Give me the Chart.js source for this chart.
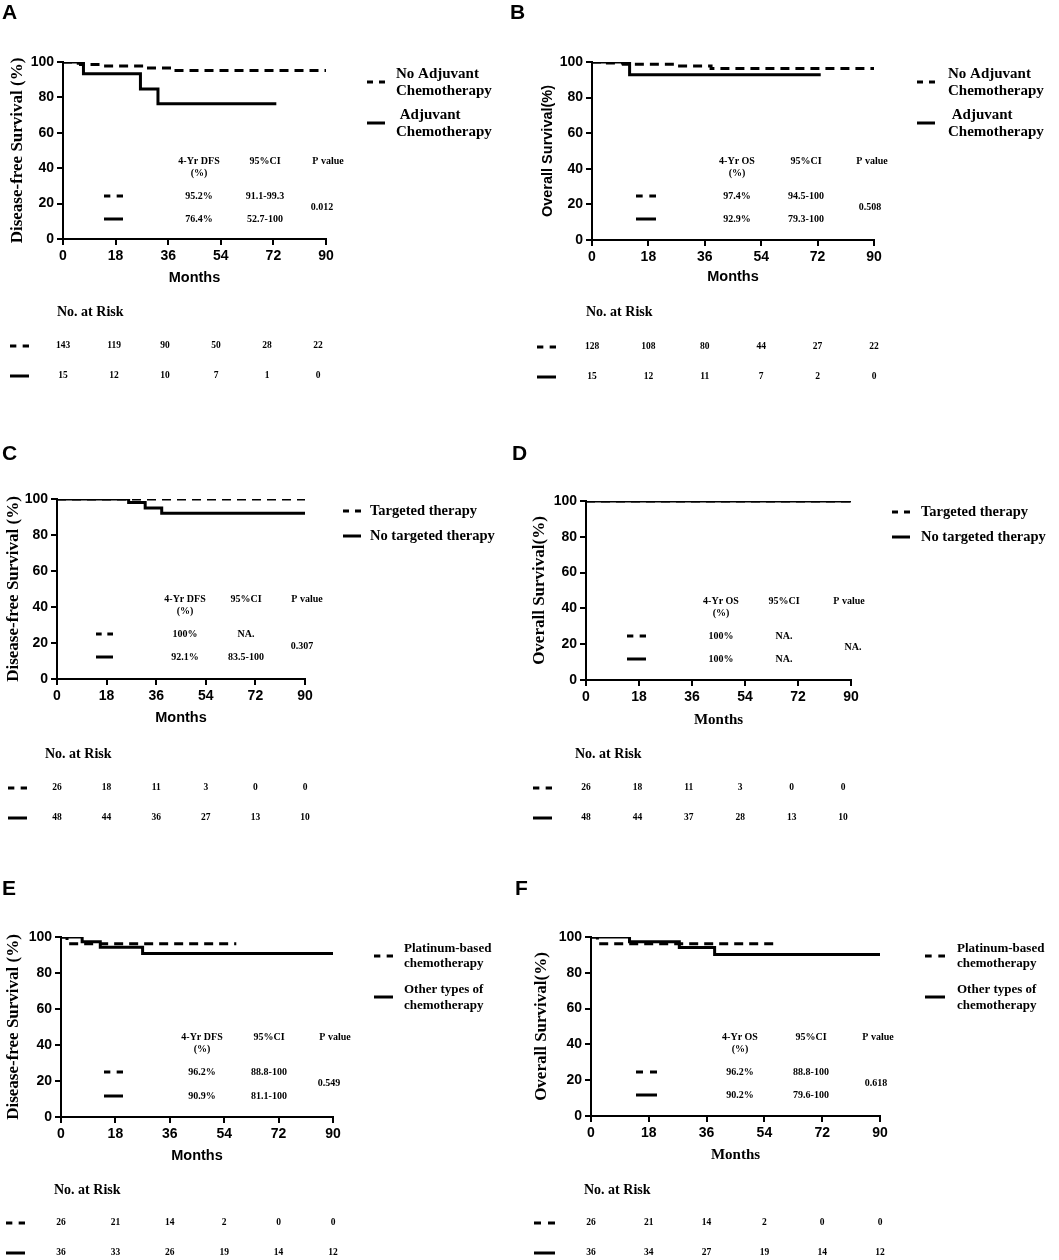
<!DOCTYPE html>
<html>
<head>
<meta charset="utf-8">
<script src="https://cdn.jsdelivr.net/npm/chart.js@4"></script>
<style>
  body { margin: 0; background: #fff; }
  #wrap { position: relative; width: 1059px; height: 1260px; overflow: hidden; background: #fff; }
  canvas { position: absolute; }
</style>
</head>
<body>
<div id="wrap"></div>
<script>
const monthTicks = [0, 18, 36, 54, 72, 90];

// A: DFS, adjuvant chemo vs none
const aNoAdjTime = [0, 4, 6, 13, 28, 38, 90];
const aNoAdjSurv = [100, 99.3, 98.6, 97.8, 96.6, 95.2, 95.2];
const aAdjTime = [0, 7, 26.5, 32.5, 73];
const aAdjSurv = [100, 93.3, 84.8, 76.4, 76.4];
const aRiskNoAdj = [143, 119, 90, 50, 28, 22];
const aRiskAdj = [15, 12, 10, 7, 1, 0];
const aStats = [["95.2%", "91.1-99.3"], ["76.4%", "52.7-100"]];
const aP = "0.012";

// B: OS, adjuvant chemo vs none
const bNoAdjTime = [0, 4, 10, 27, 38, 90];
const bNoAdjSurv = [100, 99.4, 98.8, 97.8, 96.3, 96.3];
const bAdjTime = [0, 12, 73];
const bAdjSurv = [100, 92.9, 92.9];
const bRiskNoAdj = [128, 108, 80, 44, 27, 22];
const bRiskAdj = [15, 12, 11, 7, 2, 0];
const bStats = [["97.4%", "94.5-100"], ["92.9%", "79.3-100"]];
const bP = "0.508";

// C: DFS, targeted therapy vs none
const cTargTime = [0, 90];
const cTargSurv = [100, 100];
const cNoTargTime = [0, 26, 32, 38, 90];
const cNoTargSurv = [100, 98, 95, 92.1, 92.1];
const cRiskTarg = [26, 18, 11, 3, 0, 0];
const cRiskNoTarg = [48, 44, 36, 27, 13, 10];
const cStats = [["100%", "NA."], ["92.1%", "83.5-100"]];
const cP = "0.307";

// D: OS, targeted therapy vs none
const dTargTime = [0, 90];
const dTargSurv = [100, 100];
const dNoTargTime = [0, 90];
const dNoTargSurv = [100, 100];
const dRiskTarg = [26, 18, 11, 3, 0, 0];
const dRiskNoTarg = [48, 44, 37, 28, 13, 10];
const dStats = [["100%", "NA."], ["100%", "NA."]];
const dP = "NA.";

// E: DFS, platinum-based vs other chemo
const ePlatTime = [0, 2, 58];
const ePlatSurv = [100, 96.2, 96.2];
const eOtherTime = [0, 7, 13, 27, 90];
const eOtherSurv = [100, 97.4, 94.3, 90.9, 90.9];
const eRiskPlat = [26, 21, 14, 2, 0, 0];
const eRiskOther = [36, 33, 26, 19, 14, 12];
const eStats = [["96.2%", "88.8-100"], ["90.9%", "81.1-100"]];
const eP = "0.549";

// F: OS, platinum-based vs other chemo
const fPlatTime = [0, 2, 58];
const fPlatSurv = [100, 96.2, 96.2];
const fOtherTime = [0, 12, 27.5, 38.5, 90];
const fOtherSurv = [100, 97.4, 94.2, 90.2, 90.2];
const fRiskPlat = [26, 21, 14, 2, 0, 0];
const fRiskOther = [36, 34, 27, 19, 14, 12];
const fStats = [["96.2%", "88.8-100"], ["90.2%", "79.6-100"]];
const fP = "0.618";

const adjLabels = [["No Adjuvant", "Chemotherapy"], [" Adjuvant", "Chemotherapy"]];
const targLabels = [["Targeted therapy"], ["No targeted therapy"]];
const chemoLabels = [["Platinum-based", "chemotherapy"], ["Other types of", "chemotherapy"]];

const SERIF = '"Liberation Serif", "Times New Roman", serif';
const SANS = '"Liberation Sans", Arial, sans-serif';

function txt(ctx, s, x, y, font, align) {
  ctx.font = font;
  ctx.textAlign = align || "center";
  ctx.textBaseline = "middle";
  ctx.fillStyle = "#000";
  ctx.fillText(s, x, y);
}

function sym(ctx, x1, x2, y, dashed) {
  ctx.save();
  ctx.strokeStyle = "#000";
  ctx.lineWidth = 3;
  const d = (x2 - x1) / 3;
  ctx.setLineDash(dashed ? [d, d] : []);
  ctx.beginPath();
  ctx.moveTo(x1, y);
  ctx.lineTo(x2, y);
  ctx.stroke();
  ctx.restore();
}

const panels = [
  {
    letter: "A", lx: 2, ly: 13, ox: 0, oy: 0, w: 500, h: 440, L: 63, R: 326, T: 62, B: 239,
    yTitle: "Disease-free Survival (%)", yFont: { family: SERIF, size: 17, weight: "bold" }, yTitleX: 18,
    xFont: { family: SANS, size: 14.5, weight: "bold" }, xTitleY: 278,
    series: [[aNoAdjTime, aNoAdjSurv, true], [aAdjTime, aAdjSurv, false]],
    legend: { x1: 367, x2: 385, tx: 396, size: 15, labels: adjLabels, items: [[82, [74, 91]], [123, [115, 132]]] },
    stats: { head: "4-Yr DFS", cols: [199, 265, 328], hy: 161, rows: [196, 219], sx1: 104, sx2: 123, px: 322, py: 207, vals: aStats, p: aP },
    risk: { tx: 57, ty: 312, rows: [346, 376], sx1: 10, sx2: 29, spread: 0.97, data: [aRiskNoAdj, aRiskAdj] }
  },
  {
    letter: "B", lx: 510, ly: 13, ox: 500, oy: 0, w: 559, h: 440, L: 592, R: 874, T: 62, B: 240,
    yTitle: "Overall Survival(%)", yFont: { family: SANS, size: 14.5, weight: "bold" }, yTitleX: 548,
    xFont: { family: SANS, size: 14.5, weight: "bold" }, xTitleY: 277,
    series: [[bNoAdjTime, bNoAdjSurv, true], [bAdjTime, bAdjSurv, false]],
    legend: { x1: 917, x2: 935, tx: 948, size: 15, labels: adjLabels, items: [[82, [74, 91]], [123, [115, 132]]] },
    stats: { head: "4-Yr OS", cols: [737, 806, 872], hy: 161, rows: [196, 219], sx1: 636, sx2: 656, px: 870, py: 207, vals: bStats, p: bP },
    risk: { tx: 586, ty: 312, rows: [347, 377], sx1: 537, sx2: 556, spread: 1.0, data: [bRiskNoAdj, bRiskAdj] }
  },
  {
    letter: "C", lx: 2, ly: 454, ox: 0, oy: 440, w: 500, h: 440, L: 57, R: 305, T: 499, B: 679,
    yTitle: "Disease-free Survival (%)", yFont: { family: SERIF, size: 17, weight: "bold" }, yTitleX: 14,
    xFont: { family: SANS, size: 14.5, weight: "bold" }, xTitleY: 718,
    series: [[cTargTime, cTargSurv, true], [cNoTargTime, cNoTargSurv, false]],
    legend: { x1: 343, x2: 361, tx: 370, size: 14.5, labels: targLabels, items: [[511, [511]], [536, [536]]] },
    stats: { head: "4-Yr DFS", cols: [185, 246, 307], hy: 599, rows: [634, 657], sx1: 96, sx2: 113, px: 302, py: 646, vals: cStats, p: cP },
    risk: { tx: 45, ty: 754, rows: [788, 818], sx1: 8, sx2: 27, spread: 1.0, data: [cRiskTarg, cRiskNoTarg] }
  },
  {
    letter: "D", lx: 512, ly: 454, ox: 500, oy: 440, w: 559, h: 440, L: 586, R: 851, T: 501, B: 680,
    yTitle: "Overall Survival(%)", yFont: { family: SERIF, size: 17, weight: "bold" }, yTitleX: 540,
    xFont: { family: SERIF, size: 15, weight: "bold" }, xTitleY: 720,
    series: [[dNoTargTime, dNoTargSurv, false], [dTargTime, dTargSurv, true]],
    legend: { x1: 892, x2: 910, tx: 921, size: 14.5, labels: targLabels, items: [[512, [512]], [537, [537]]] },
    stats: { head: "4-Yr OS", cols: [721, 784, 849], hy: 601, rows: [636, 659], sx1: 627, sx2: 646, px: 853, py: 647, vals: dStats, p: dP },
    risk: { tx: 575, ty: 754, rows: [788, 818], sx1: 533, sx2: 552, spread: 0.97, data: [dRiskTarg, dRiskNoTarg] }
  },
  {
    letter: "E", lx: 2, ly: 889, ox: 0, oy: 880, w: 500, h: 380, L: 61, R: 333, T: 937, B: 1117,
    yTitle: "Disease-free Survival (%)", yFont: { family: SERIF, size: 17, weight: "bold" }, yTitleX: 14,
    xFont: { family: SANS, size: 14.5, weight: "bold" }, xTitleY: 1156,
    series: [[ePlatTime, ePlatSurv, true], [eOtherTime, eOtherSurv, false]],
    legend: { x1: 374, x2: 393, tx: 404, size: 13, labels: chemoLabels, items: [[956, [949, 964]], [997, [990, 1006]]] },
    stats: { head: "4-Yr DFS", cols: [202, 269, 335], hy: 1037, rows: [1072, 1096], sx1: 104, sx2: 123, px: 329, py: 1083, vals: eStats, p: eP },
    risk: { tx: 54, ty: 1190, rows: [1223, 1253], sx1: 6, sx2: 25, spread: 1.0, data: [eRiskPlat, eRiskOther] }
  },
  {
    letter: "F", lx: 515, ly: 889, ox: 500, oy: 880, w: 559, h: 380, L: 591, R: 880, T: 937, B: 1116,
    yTitle: "Overall Survival(%)", yFont: { family: SERIF, size: 17, weight: "bold" }, yTitleX: 542,
    xFont: { family: SERIF, size: 15, weight: "bold" }, xTitleY: 1155,
    series: [[fPlatTime, fPlatSurv, true], [fOtherTime, fOtherSurv, false]],
    legend: { x1: 925, x2: 945, tx: 957, size: 13, labels: chemoLabels, items: [[956, [949, 964]], [997, [990, 1006]]] },
    stats: { head: "4-Yr OS", cols: [740, 811, 878], hy: 1037, rows: [1072, 1095], sx1: 636, sx2: 657, px: 876, py: 1083, vals: fStats, p: fP },
    risk: { tx: 584, ty: 1190, rows: [1223, 1253], sx1: 534, sx2: 555, spread: 1.0, data: [fRiskPlat, fRiskOther] }
  }
];

const wrap = document.getElementById("wrap");
const tickFont = { family: SANS, size: 14, weight: "bold" };

panels.forEach(p => {
  const canvas = document.createElement("canvas");
  canvas.width = p.w;
  canvas.height = p.h;
  canvas.style.left = p.ox + "px";
  canvas.style.top = p.oy + "px";
  canvas.style.width = p.w + "px";
  canvas.style.height = p.h + "px";
  wrap.appendChild(canvas);

  const yW = p.L - p.ox;
  const xLH = p.xFont.size * 1.2;
  const yLH = p.yFont.size * 1.2;
  const xH = p.xTitleY - p.B + xLH / 2;

  const extras = {
    id: "extras" + p.letter,
    afterDraw(chart) {
      const ctx = chart.ctx;
      const X = v => v - p.ox, Y = v => v - p.oy;
      ctx.save();
      txt(ctx, p.letter, X(p.lx), Y(p.ly), "bold 21px " + SANS, "left");

      // legend
      const lg = p.legend;
      lg.items.forEach((it, i) => {
        sym(ctx, X(lg.x1), X(lg.x2), Y(it[0]), i === 0);
        it[1].forEach((ty, j) => txt(ctx, lg.labels[i][j], X(lg.tx), Y(ty), "bold " + lg.size + "px " + SERIF, "left"));
      });

      // stats table
      const st = p.stats;
      const sf = "bold 10px " + SERIF;
      txt(ctx, st.head, X(st.cols[0]), Y(st.hy), sf);
      txt(ctx, "(%)", X(st.cols[0]), Y(st.hy + 12), sf);
      txt(ctx, "95%CI", X(st.cols[1]), Y(st.hy), sf);
      txt(ctx, "P value", X(st.cols[2]), Y(st.hy), sf);
      st.rows.forEach((ry, i) => {
        sym(ctx, X(st.sx1), X(st.sx2), Y(ry), i === 0);
        txt(ctx, st.vals[i][0], X(st.cols[0]), Y(ry), sf);
        txt(ctx, st.vals[i][1], X(st.cols[1]), Y(ry), sf);
      });
      txt(ctx, st.p, X(st.px), Y(st.py), sf);

      // number at risk
      const rk = p.risk;
      const xs = chart.scales.x;
      txt(ctx, "No. at Risk", X(rk.tx), Y(rk.ty), "bold 14px " + SERIF, "left");
      rk.rows.forEach((ry, i) => {
        sym(ctx, X(rk.sx1), X(rk.sx2), Y(ry), i === 0);
        rk.data[i].forEach((n, k) => {
          const px = xs.getPixelForValue(monthTicks[k]);
          const cx = xs.left + (px - xs.left) * rk.spread;
          txt(ctx, String(n), cx, Y(ry), "bold 9.5px " + SERIF);
        });
      });
      ctx.restore();
    }
  };

  new Chart(canvas, {
    type: "line",
    data: {
      datasets: p.series.map(s => ({
        data: s[0].map((t, i) => ({ x: t, y: s[1][i] })),
        borderColor: "#000",
        borderWidth: 3,
        borderDash: s[2] ? [9, 6] : [],
        stepped: "before",
        pointRadius: 0,
        fill: false,
        clip: { left: 0, top: 0, right: 0, bottom: 0 }
      }))
    },
    options: {
      responsive: false,
      animation: false,
      layout: {
        padding: { left: 0, right: p.ox + p.w - p.R, top: p.T - p.oy, bottom: p.oy + p.h - p.B - xH }
      },
      plugins: { legend: { display: false }, tooltip: { enabled: false } },
      scales: {
        x: {
          type: "linear", min: 0, max: 90,
          afterBuildTicks: s => { s.ticks = monthTicks.map(v => ({ value: v })); },
          ticks: { font: tickFont, color: "#000", padding: 3, maxRotation: 0, autoSkip: false },
          grid: { drawOnChartArea: false, drawTicks: true, tickLength: 6, color: "#000", lineWidth: 2 },
          border: { color: "#000", width: 2 },
          title: { display: true, text: "Months", font: p.xFont, color: "#000", padding: 0 },
          afterFit: s => { s.height = xH; }
        },
        y: {
          type: "linear", min: 0, max: 100,
          ticks: { stepSize: 20, font: tickFont, color: "#000", padding: 3 },
          grid: { drawOnChartArea: false, drawTicks: true, tickLength: 6, color: "#000", lineWidth: 2 },
          border: { color: "#000", width: 2 },
          title: { display: true, text: p.yTitle, font: p.yFont, color: "#000", padding: { top: p.yTitleX - p.ox - yLH / 2, bottom: 0 } },
          afterFit: s => { s.width = yW; }
        }
      }
    },
    plugins: [extras]
  });
});
</script>
</body>
</html>
